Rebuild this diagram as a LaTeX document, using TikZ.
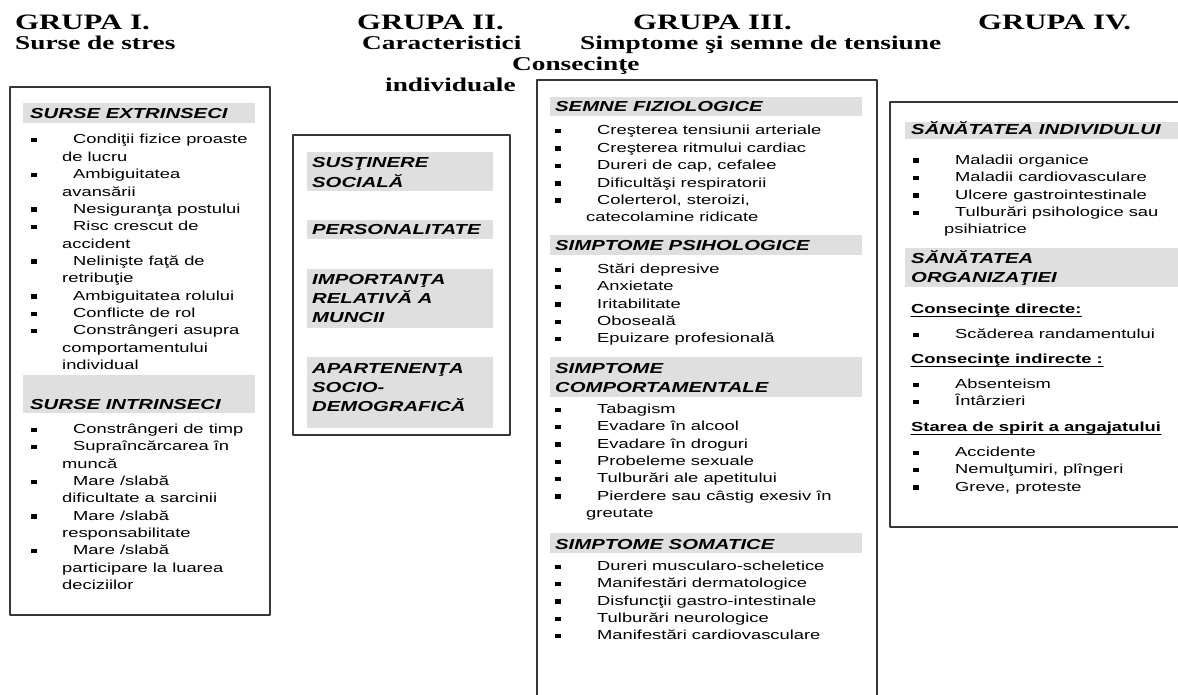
\documentclass[tikz,border=0pt]{standalone}
\usepackage{fontspec}
\setmainfont{Liberation Sans}[FakeStretch=1.4]
\newfontfamily\grpfont{Liberation Serif}[FakeStretch=1.4]
\usepackage{tikz}
\definecolor{bargray}{HTML}{DFDFDF}
\definecolor{framegray}{HTML}{363636}
\tikzset{
  every picture/.style={line join=round, line cap=round},
  frame/.style={draw=framegray, line width=1.7pt},
  bar/.style={fill=bargray},
  grp/.style={inner sep=0pt, anchor=base west, font=\grpfont\bfseries\fontsize{22}{22}\selectfont},
  sub/.style={inner sep=0pt, anchor=base west, font=\grpfont\bfseries\fontsize{19.5}{20}\selectfont},
  head/.style={inner sep=0pt, anchor=base west, font=\bfseries\itshape\fontsize{14.5}{19}\selectfont},
  entry/.style={inner sep=0pt, anchor=base west, font=\fontsize{13.1}{17}\selectfont},
  subhead/.style={inner sep=0pt, anchor=base west, font=\bfseries\fontsize{13.1}{17}\selectfont},
}
% name, bullet x, first baseline, 1/{bullet line} or 0/{continued line}
\newcommand\bulletlines[4]{%
  \foreach \k/\t [count=\i from 0] in {#4} {
    \ifnum\k=1
      \fill (#2,#3+\i*17.35-6) rectangle ++(5.5,4.5);
      \node[entry] (#1\i) at (#2+42,#3+\i*17.35) {\t};
    \else
      \node[entry] (#1\i) at (#2+31,#3+\i*17.35) {\t};
    \fi}}
% name, x, first baseline, lines of a bar title
\newcommand\headlines[4]{%
  \foreach \t [count=\i from 0] in {#4}
    \node[head] (#1\i) at (#2,#3+\i*19.4) {\t};}

\begin{document}
\begin{tikzpicture}[x=1pt, y=-1pt]
\useasboundingbox (0,0) rectangle (1178,695);
\clip (0,0) rectangle (1178,695);
% titles
\node[grp] (g1) at (15,30) {GRUPA I.};
\node[sub] (s1) at (15,50) {Surse de stres};
\node[grp] (g2) at (357,30) {GRUPA II.};
\node[sub] (s2) at (362,50) {Caracteristici};
\node[sub] (s2b) at (385,92) {individuale};
\node[grp] (g3) at (633,30) {GRUPA III.};
\node[sub] (s3) at (580,50) {Simptome şi semne de tensiune};
\node[grp] (g4) at (978,30) {GRUPA IV.};
\node[sub] (s4) at (512,71) {Consecinţe};
% grey bars
\fill[bar] (23,103) rectangle (255,123);
\fill[bar] (23,375) rectangle (255,413);
\fill[bar] (307,152) rectangle (493,191);
\fill[bar] (307,220) rectangle (493,239);
\fill[bar] (307,269) rectangle (493,328);
\fill[bar] (307,357) rectangle (493,428);
\fill[bar] (550,97) rectangle (862,116);
\fill[bar] (550,235) rectangle (862,255);
\fill[bar] (550,357) rectangle (862,397);
\fill[bar] (550,533) rectangle (862,553);
\fill[bar] (905,122) rectangle (1180,139);
\fill[bar] (905,248) rectangle (1180,287);
% frames
\draw[frame] (10,87) rectangle (270,615);
\draw[frame] (293,135) rectangle (510,435);
\draw[frame] (537,80) rectangle (877,720);
\draw[frame] (890,102) rectangle (1200,527);
% group I
\headlines{ext}{30}{119}{SURSE EXTRINSECI}
\bulletlines{a}{31}{144}{1/{Condiţii fizice proaste}, 0/{de lucru}, 1/{Ambiguitatea},
  0/{avansării}, 1/{Nesiguranţa postului}, 1/{Risc crescut de}, 0/{accident},
  1/{Nelinişte faţă de}, 0/{retribuţie}, 1/{Ambiguitatea rolului}, 1/{Conflicte de rol},
  1/{Constrângeri asupra}, 0/{comportamentului}, 0/{individual}}
\headlines{int}{30}{409}{SURSE INTRINSECI}
\bulletlines{b}{31}{433.5}{1/{Constrângeri de timp}, 1/{Supraîncărcarea în}, 0/{muncă},
  1/{Mare /slabă}, 0/{dificultate a sarcinii}, 1/{Mare /slabă}, 0/{responsabilitate},
  1/{Mare /slabă}, 0/{participare la luarea}, 0/{deciziilor}}
% group II
\headlines{sus}{312}{168}{SUSŢINERE, SOCIALĂ}
\headlines{per}{312}{235}{PERSONALITATE}
\headlines{imp}{312}{284}{IMPORTANŢA, RELATIVĂ A, MUNCII}
\headlines{apa}{312}{373}{APARTENENŢA, SOCIO-, DEMOGRAFICĂ}
% group III
\headlines{fiz}{555}{112}{SEMNE FIZIOLOGICE}
\bulletlines{c}{555}{135}{1/{Creşterea tensiunii arteriale}, 1/{Creşterea ritmului cardiac},
  1/{Dureri de cap, cefalee}, 1/{Dificultăşi respiratorii}, 1/{Colerterol, steroizi,},
  0/{catecolamine ridicate}}
\headlines{psi}{555}{251}{SIMPTOME PSIHOLOGICE}
\bulletlines{d}{555}{273.5}{1/{Stări depresive}, 1/{Anxietate}, 1/{Iritabilitate},
  1/{Oboseală}, 1/{Epuizare profesională}}
\headlines{com}{555}{373}{SIMPTOME, COMPORTAMENTALE}
\bulletlines{e}{555}{413.5}{1/{Tabagism}, 1/{Evadare în alcool}, 1/{Evadare în droguri},
  1/{Probeleme sexuale}, 1/{Tulburări ale apetitului}, 1/{Pierdere sau câstig exesiv în},
  0/{greutate}}
\headlines{som}{555}{549}{SIMPTOME SOMATICE}
\bulletlines{f}{555}{570.5}{1/{Dureri muscularo-scheletice}, 1/{Manifestări dermatologice},
  1/{Disfuncţii gastro-intestinale}, 1/{Tulburări neurologice}, 1/{Manifestări cardiovasculare}}
% group IV
\headlines{ind}{911}{135}{SĂNĂTATEA INDIVIDULUI}
\bulletlines{h}{913}{164.5}{1/{Maladii organice}, 1/{Maladii cardiovasculare},
  1/{Ulcere gastrointestinale}, 1/{Tulburări psihologice sau}, 0/{psihiatrice}}
\headlines{org}{911}{263}{SĂNĂTATEA, ORGANIZAŢIEI}
\node[subhead] (dir) at (911,313.5) {Consecinţe directe:};
\bulletlines{k}{913}{338.5}{1/{Scăderea randamentului}}
\node[subhead] (indir) at (911,363.5) {Consecinţe indirecte :};
\bulletlines{m}{913}{388.5}{1/{Absenteism}, 1/{Întârzieri}}
\node[subhead] (spir) at (911,431.5) {Starea de spirit a angajatului};
\bulletlines{n}{913}{456.5}{1/{Accidente}, 1/{Nemulţumiri, plîngeri}, 1/{Greve, proteste}}
\foreach \u in {dir, indir, spir}
  \draw[line width=1.2pt] ([yshift=-2.6pt]\u.base west) -- ([yshift=-2.6pt]\u.base east);
\end{tikzpicture}
\end{document}
